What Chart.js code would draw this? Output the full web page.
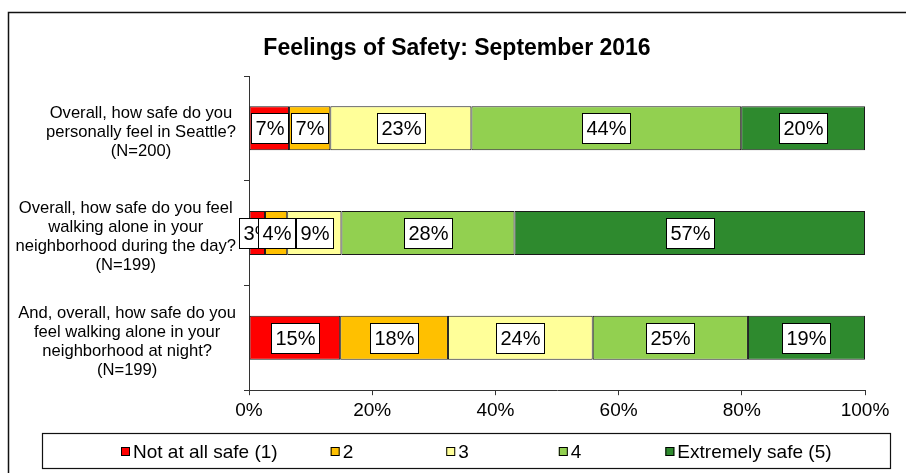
<!DOCTYPE html>
<html><head><meta charset="utf-8">
<script src="https://cdn.jsdelivr.net/npm/chart.js@4/dist/chart.umd.min.js"></script>
<style>html,body{margin:0;padding:0;background:#fff}#wrap{width:906px;height:473px;position:relative}canvas{display:block}</style>
</head><body><div id="wrap"><canvas id="c" width="906" height="473"></canvas></div>
<script>
const categories = [
  ["Overall, how safe do you", "personally feel in Seattle?", "(N=200)"],
  ["Overall, how safe do you feel", "walking alone in your", "neighborhood during the day?", "(N=199)"],
  ["And, overall, how safe do you", "feel walking alone in your", "neighborhood at night?", "(N=199)"]
];
const seriesNames = ["Not at all safe (1)", "2", "3", "4", "Extremely safe (5)"];
const notAtAllSafe = [6.5, 2.6, 14.8];
const level2 = [6.7, 3.6, 17.5];
const level3 = [22.9, 8.8, 23.5];
const level4 = [43.8, 28.1, 25.2];
const extremelySafe = [20.1, 56.9, 19.0];
const xTicks = [0, 20, 40, 60, 80, 100];
const chartTitle = "Feelings of Safety: September 2016";

const F = "'Liberation Sans', Arial, sans-serif";
const colors = ["#FF0000", "#FFC000", "#FFFF99", "#92D050", "#2E8A2E"];
const seriesValues = [notAtAllSafe, level2, level3, level4, extremelySafe];
const legendGaps = [53, 93, 90, 84];

const dataLabels = {
  id: 'dataLabels',
  afterDatasetsDraw(chart) {
    const c = chart.ctx; c.save();
    c.font = '20px ' + F; c.textAlign = 'center'; c.textBaseline = 'middle';
    chart.data.datasets.forEach((ds, di) => {
      const meta = chart.getDatasetMeta(di);
      meta.data.forEach((bar, i) => {
        const txt = Math.round(ds.data[i]) + '%';
        const cx = (bar.x + bar.base) / 2, cy = bar.y;
        const w = Math.round(c.measureText(txt).width + 8), h = 30;
        const x0 = Math.round(cx - w / 2), y0 = Math.round(cy - h / 2);
        c.fillStyle = '#fff'; c.fillRect(x0, y0, w, h);
        c.strokeStyle = '#000'; c.lineWidth = 1; c.strokeRect(x0 + 0.5, y0 + 0.5, w, h);
        c.fillStyle = '#000'; c.fillText(txt, x0 + w / 2 + 0.5, y0 + h / 2 + 1.5);
      });
    });
    c.restore();
  }
};

const yLabels = {
  id: 'yLabels',
  afterDraw(chart) {
    const s = chart.scales.y; const c = chart.ctx; c.save();
    c.font = '16.6px ' + F; c.fillStyle = '#000'; c.textAlign = 'center'; c.textBaseline = 'middle';
    const right = s.right - 13, lh = 19;
    chart.data.labels.forEach((lines, i) => {
      const y = s.getPixelForTick(i) + 4;
      const w = Math.max(...lines.map(l => c.measureText(l).width));
      const cx = right - w / 2;
      const yStart = y - (lines.length - 1) * lh / 2;
      lines.forEach((l, k) => c.fillText(l, cx, yStart + k * lh));
    });
    c.restore();
  }
};

const frameAndLegend = {
  id: 'frameAndLegend',
  afterDraw(chart) {
    const c = chart.ctx; c.save();
    c.strokeStyle = '#111'; c.lineWidth = 1.5;
    c.beginPath(); c.moveTo(8.5, chart.height); c.lineTo(8.5, 12.5); c.lineTo(chart.width, 12.5); c.stroke();
    const bx = 42, by = chart.height - 40, bw = chart.width - 16 - bx, bh = 35;
    c.lineWidth = 1.2; c.strokeStyle = '#111';
    c.strokeRect(bx + 0.5, by + 0.5, bw, bh);
    c.font = '19px ' + F; c.textBaseline = 'middle'; c.textAlign = 'left';
    const sq = 9, gapTxt = 3;
    let x = bx + 79;
    const cy = by + bh / 2 + 1;
    chart.data.datasets.forEach((ds, i) => {
      const w = sq + gapTxt + c.measureText(ds.label).width;
      c.fillStyle = ds.backgroundColor; c.fillRect(x, Math.round(cy - sq / 2), sq, sq);
      c.strokeStyle = '#000'; c.lineWidth = 1; c.strokeRect(x + 0.5, Math.round(cy - sq / 2) + 0.5, sq - 1, sq - 1);
      c.fillStyle = '#000'; c.fillText(ds.label, x + sq + gapTxt, cy + 1);
      x += w + (legendGaps[i] || 0);
    });
    c.restore();
  }
};

new Chart(document.getElementById('c'), {
  type: 'bar',
  data: {
    labels: categories,
    datasets: seriesValues.map((v, i) => ({
      label: seriesNames[i], data: v, backgroundColor: colors[i],
      borderColor: '#1a1a1a', borderWidth: 1, borderSkipped: false,
      categoryPercentage: 1, barPercentage: 0.42
    }))
  },
  options: {
    indexAxis: 'y', responsive: false, animation: false, devicePixelRatio: 1,
    layout: { padding: { left: 8, right: 0, top: 0, bottom: 47 } },
    plugins: {
      legend: { display: false },
      tooltip: { enabled: false },
      title: { display: true, text: chartTitle, color: '#000', font: { family: F, size: 23, weight: 'bold' }, padding: { top: 35, bottom: 13.4 } }
    },
    scales: {
      x: {
        stacked: true, min: 0, max: 100,
        afterBuildTicks: s => { s.ticks = xTicks.map(v => ({ value: v })); },
        ticks: { callback: v => v + '%', font: { family: F, size: 19 }, color: '#000', padding: 4, maxRotation: 0 },
        grid: { drawOnChartArea: false, tickLength: 5, color: '#333' },
        border: { color: '#333', width: 1 }
      },
      y: {
        stacked: true,
        ticks: { color: 'rgba(0,0,0,0)', font: { family: F, size: 16 } },
        grid: { drawOnChartArea: false, tickLength: 5, color: '#333', offset: true },
        border: { color: '#333', width: 1 },
        afterFit: s => { s.width = 241; }
      },
      spacer: {
        type: 'linear', axis: 'y', position: 'right', display: true,
        grid: { display: false }, border: { display: false }, ticks: { display: false },
        afterFit: s => { s.width = 41; }
      }
    }
  },
  plugins: [dataLabels, yLabels, frameAndLegend]
});
</script>
</body></html>
